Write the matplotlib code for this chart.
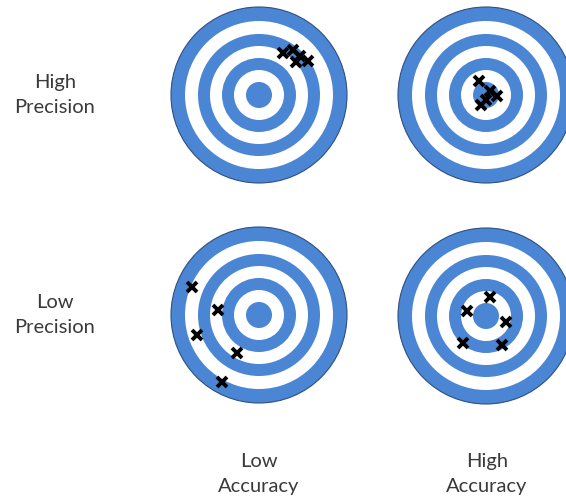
import matplotlib.pyplot as plt
from matplotlib.patches import Circle

W, H = 566, 499
BLUE = '#4a86d4'
EDGE = '#2f4f80'
TEXT = '#3a3a3a'

# shot positions (image pixels) for each target
hp_la_x = [283, 293, 300, 308, 296]
hp_la_y = [53, 50, 56, 61, 62]
hp_ha_x = [479, 490, 497, 486, 481]
hp_ha_y = [81, 91, 96, 100, 105]
lp_la_x = [192, 218, 197, 237, 222]
lp_la_y = [287, 310, 335, 353, 382]
lp_ha_x = [490, 467, 506, 463, 502]
lp_ha_y = [297, 311, 322, 343, 345]

row_labels = ['High\nPrecision', 'Low\nPrecision']
col_labels = ['Low\nAccuracy', 'High\nAccuracy']

targets = [
    ((259, 95), hp_la_x, hp_la_y),
    ((486, 95), hp_ha_x, hp_ha_y),
    ((259, 315), lp_la_x, lp_la_y),
    ((486, 316), lp_ha_x, lp_ha_y),
]
ring_r = [88, 74, 61, 49, 37, 25, 13]


def draw_target(ax, c):
    for i, r in enumerate(ring_r):
        col = BLUE if i % 2 == 0 else 'white'
        ax.add_patch(Circle(c, r, facecolor=col, edgecolor='none', zorder=1 + i))
    ax.add_patch(Circle(c, ring_r[0], facecolor='none', edgecolor=EDGE,
                        linewidth=0.8, zorder=10))


fig = plt.figure(figsize=(W / 100, H / 100), dpi=100)
ax = fig.add_axes([0, 0, 1, 1])
ax.set_xlim(0, W)
ax.set_ylim(H, 0)
ax.set_aspect('equal')
ax.axis('off')

for c, xs, ys in targets:
    draw_target(ax, c)
    ax.plot(xs, ys, linestyle='none', marker='x', markersize=7.5,
            markeredgewidth=2.8, color='black', zorder=20)

for lbl, y in zip(row_labels, [95, 315]):
    ax.text(55, y, lbl, ha='center', va='center', fontsize=14.5,
            family='Lato', color=TEXT, linespacing=1.6)
for lbl, x in zip(col_labels, [259, 487]):
    ax.text(x, 474, lbl, ha='center', va='center', fontsize=14.5,
            family='Lato', color=TEXT, linespacing=1.6)

fig.savefig('out.png', dpi=100)
